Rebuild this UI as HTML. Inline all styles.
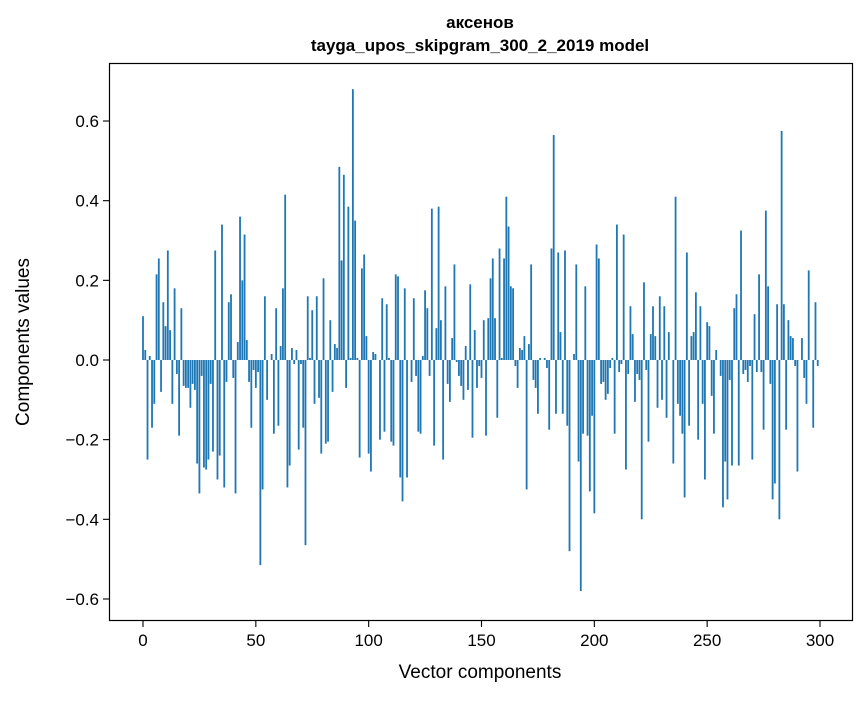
<!DOCTYPE html>
<html><head><meta charset="utf-8"><style>
body{margin:0;background:#fff;}
svg text{font-family:"Liberation Sans","DejaVu Sans",sans-serif;fill:#000;}
</style></head><body>
<svg id="chart" width="867" height="696" xmlns="http://www.w3.org/2000/svg">
<rect width="867" height="696" fill="#fff"/>
<text x="480" y="28" font-size="17" font-weight="bold" text-anchor="middle">аксенов</text>
<text x="480" y="51" font-size="17" font-weight="bold" text-anchor="middle">tayga_upos_skipgram_300_2_2019 model</text>
<g id="bars"></g>
<g id="axes"></g>
<rect x="109.5" y="63.5" width="743" height="557" fill="none" stroke="#000" stroke-width="1.2"/>
<text x="480" y="678" font-size="19" text-anchor="middle">Vector components</text>
<text transform="translate(29,342) rotate(-90)" font-size="19" text-anchor="middle">Components values</text>
</svg>
<script>
const values = [
0.11,0.025,-0.25,0.01,-0.17,-0.11,0.215,0.255,-0.08,0.145,
0.085,0.275,0.075,-0.11,0.18,-0.035,-0.19,0.13,-0.065,-0.07,
-0.07,-0.12,-0.06,
-0.075,-0.26,-0.335,-0.04,-0.27,-0.275,-0.25,-0.06,-0.23,0.275,
-0.30,-0.24,0.34,-0.32,-0.055,0.145,0.165,-0.045,-0.335,0.045,
0.36,0.2,0.315,0.05,-0.055,-0.17,-0.025,-0.07,-0.03,-0.515,
-0.325,0.16,-0.1,0.0,0.015,-0.185,0.13,-0.165,0.035,0.18,
0.415,-0.32,-0.265,0.03,-0.01,0.025,-0.225,-0.01,-0.17,-0.465,
0.16,0.005,0.125,-0.11,0.16,-0.095,-0.235,0.205,-0.21,-0.205,
0.10,-0.08,0.04,0.03,0.485,0.25,0.465,-0.07,0.385,0.005,
0.68,0.35,0.005,-0.245,0.23,0.265,0.06,-0.235,-0.28,0.02,
0.015,0.0,-0.20,0.155,-0.18,0.14,0.005,-0.205,-0.215,0.215,
0.21,-0.295,-0.355,0.18,-0.295,0.0,-0.055,0.155,-0.04,-0.18,
-0.185,0.01,0.175,0.13,-0.04,0.38,-0.215,0.08,0.385,0.10,
-0.25,0.185,-0.06,-0.105,0.055,0.24,-0.005,-0.04,-0.065,-0.1,
0.035,-0.075,0.19,-0.195,0.075,-0.07,-0.015,-0.045,0.1,-0.19,
0.105,0.205,0.255,0.105,-0.145,0.28,0.005,0.255,0.41,0.335,
0.185,0.18,-0.015,-0.07,0.03,0.025,0.06,-0.325,0.04,0.24,
-0.05,-0.07,-0.135,0.005,0.0,0.005,-0.02,-0.175,0.28,0.565,
-0.135,0.27,0.07,-0.135,0.275,-0.165,-0.48,0.0,0.015,0.24,
-0.255,-0.58,-0.185,0.185,-0.19,-0.33,-0.14,-0.385,0.29,0.255,
-0.06,-0.055,-0.1,-0.085,-0.02,0.005,-0.185,0.34,-0.03,-0.01,
0.315,-0.275,-0.035,0.135,0.065,-0.105,-0.035,-0.05,-0.4,0.195,
-0.025,-0.205,0.065,0.135,0.06,-0.12,0.16,-0.1,0.135,-0.145,
0.07,0.0,-0.26,0.41,-0.11,-0.14,-0.185,-0.345,0.27,-0.165,
0.06,0.07,0.17,-0.2,0.135,-0.11,-0.3,0.095,0.085,-0.09,
-0.185,0.025,0.0,-0.04,-0.37,-0.255,-0.35,-0.05,-0.265,0.13,
0.165,-0.265,0.325,-0.035,-0.025,-0.055,-0.015,-0.25,0.115,-0.03,
0.215,-0.03,-0.175,0.375,0.185,-0.06,-0.35,-0.31,0.14,-0.4,
0.575,0.14,-0.175,0.1,0.06,0.055,-0.015,-0.28,0.0,0.055,
-0.045,-0.11,0.225,0.0,-0.17,0.145,-0.015
];
const xTicks = [0,50,100,150,200,250,300];
const yTicks = [-0.6,-0.4,-0.2,0.0,0.2,0.4,0.6];
const yTickLabels = ["\u22120.6","\u22120.4","\u22120.2","0.0","0.2","0.4","0.6"];

const NS = "http://www.w3.org/2000/svg";
function xScale(v){ return 143 + v * (820 - 143) / 300; }
function yScale(v){ return 360 - v * 398.3; }

const barsG = document.getElementById('bars');
values.forEach((v, i) => {
  const r = document.createElementNS(NS, 'rect');
  
  
  const w = 0.8 * (820 - 143) / 300;
  r.setAttribute('x', xScale(i) - w / 2);
  const y0 = yScale(0), y1 = yScale(v);
  r.setAttribute('y', Math.min(y0, y1));
  r.setAttribute('width', w);
  r.setAttribute('height', Math.abs(y1 - y0));
  r.setAttribute('fill', '#1f77b4');
  barsG.appendChild(r);
});

const axesG = document.getElementById('axes');
xTicks.forEach(t => {
  const x = xScale(t);
  const l = document.createElementNS(NS, 'line');
  
  
  l.setAttribute('x1', x); l.setAttribute('x2', x);
  l.setAttribute('y1', 620.5); l.setAttribute('y2', 627);
  l.setAttribute('stroke', '#000'); l.setAttribute('stroke-width', '1.1');
  axesG.appendChild(l);
  const tx = document.createElementNS(NS, 'text');
  
  
  tx.setAttribute('x', x); tx.setAttribute('y', 646);
  tx.setAttribute('font-size', '17'); tx.setAttribute('text-anchor', 'middle');
  tx.textContent = String(t);
  axesG.appendChild(tx);
});
yTicks.forEach((t, i) => {
  const y = yScale(t);
  const l = document.createElementNS(NS, 'line');
  
  
  l.setAttribute('x1', 103); l.setAttribute('x2', 109.5);
  l.setAttribute('y1', y); l.setAttribute('y2', y);
  l.setAttribute('stroke', '#000'); l.setAttribute('stroke-width', '1.1');
  axesG.appendChild(l);
  const tx = document.createElementNS(NS, 'text');
  
  
  tx.setAttribute('x', 99); tx.setAttribute('y', y + 6);
  tx.setAttribute('font-size', '17'); tx.setAttribute('text-anchor', 'end');
  tx.textContent = yTickLabels[i];
  axesG.appendChild(tx);
});
</script>
</body></html>
